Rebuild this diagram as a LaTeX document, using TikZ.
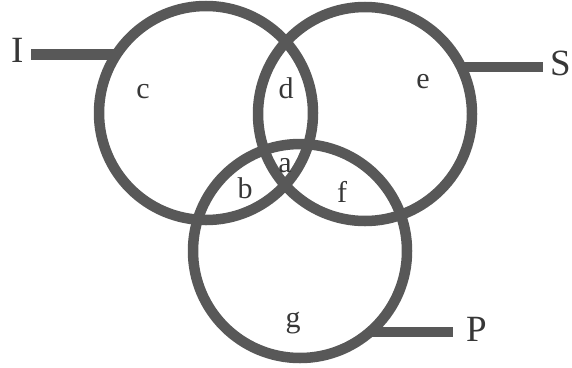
\documentclass[tikz,border=0pt]{standalone}
\usepackage{fontspec}
\setmainfont{Liberation Serif}
\usetikzlibrary{positioning}
\definecolor{ringgray}{RGB}{88,88,88}
\definecolor{inkgray}{RGB}{55,55,55}
\begin{document}
\begin{tikzpicture}[x=1pt, y=-1pt,
    ring/.style={circle, draw=ringgray, line width=10.5pt, minimum size=214pt, inner sep=0pt, outer sep=0pt},
    link/.style={draw=ringgray, line width=10.5pt},
    area/.style={text=inkgray, font=\fontsize{30}{36}\selectfont, anchor=base, inner sep=0pt},
    tag/.style={text=inkgray, font=\fontsize{37}{44}\selectfont, anchor=base west, inner sep=0pt}]
  \useasboundingbox (0,0) rectangle (572,367);
  % the three rings
  \node[ring] (ringL) at (206,113) {};
  \node[ring] (ringR) at (365,114) {};
  \node[ring] (ringB) at (300,251) {};
  % outer labels and their leads
  \node[tag] (labI) at (11,62) {I};
  \node[tag] (labS) at (550,75) {S};
  \node[tag] (labP) at (466,341) {P};
  \coordinate (endI) at (31,55);
  \coordinate (endS) at (543,67);
  \coordinate (endP) at (453,332);
  \draw[link] (ringL.147.2) -- (ringL.147.2 -| endI);
  \draw[link] (ringR.26.1) -- (ringR.26.1 -| endS);
  \draw[link] (ringB.-49.2) -- (ringB.-49.2 -| endP);
  % region letters
  \node[area] (regC) at (143,98) {c};
  \node[area] (regD) at (286,98) {d};
  \node[area] (regE) at (423,88) {e};
  \node[area] (regA) at (285,172) {a};
  \node[area] (regB) at (245,198) {b};
  \node[area] (regF) at (342,202) {f};
  \node[area] (regG) at (293,327) {g};
\end{tikzpicture}
\end{document}
